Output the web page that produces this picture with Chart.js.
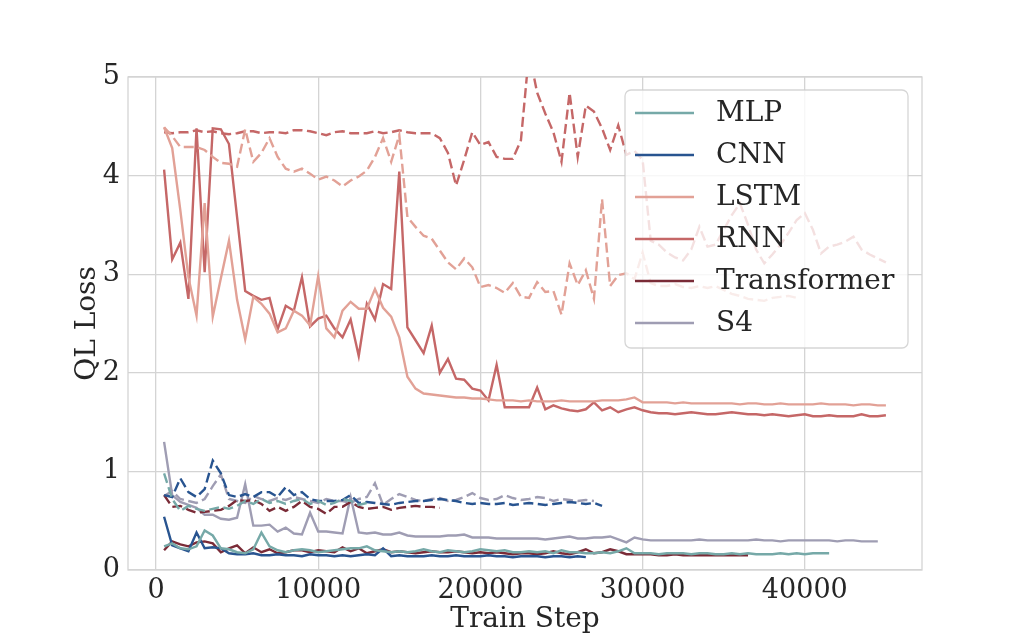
<!DOCTYPE html>
<html>
<head>
<meta charset="utf-8">
<title>QL Loss vs Train Step</title>
<script src="https://cdn.jsdelivr.net/npm/chart.js@4.4.1/dist/chart.umd.min.js"></script>
<style>
  html, body { margin: 0; padding: 0; background: #fff; }
  canvas { display: block; }
</style>
</head>
<body>
<canvas id="chart" width="1024" height="640"></canvas>
<script>
// losses are logged every 500 train steps, first log at step 500
const stepStart = 500;
const stepEvery = 500;

const xTicks = [0, 10000, 20000, 30000, 40000];
const yTicks = [0, 1, 2, 3, 4, 5];
const xLimits = [-1725, 47225];
const yLimits = [0, 5];

const models = ["MLP", "CNN", "LSTM", "RNN", "Transformer", "S4"];

// solid lines = train loss, dashed = validation loss
const mlpTrain = [0.24, 0.27, 0.22, 0.21, 0.24, 0.40, 0.35, 0.22, 0.21, 0.18, 0.17, 0.21, 0.38, 0.24, 0.20, 0.18, 0.20, 0.21, 0.20, 0.18,
  0.19, 0.20, 0.21, 0.22, 0.22, 0.24, 0.20, 0.19, 0.18, 0.19, 0.18, 0.19, 0.21, 0.19, 0.18, 0.20, 0.19, 0.18, 0.19, 0.21,
  0.20, 0.19, 0.20, 0.18, 0.18, 0.19, 0.18, 0.19, 0.17, 0.20, 0.18, 0.18, 0.17, 0.17, 0.18, 0.17, 0.19, 0.22, 0.17, 0.17,
  0.17, 0.16, 0.17, 0.17, 0.17, 0.16, 0.17, 0.17, 0.16, 0.16, 0.17, 0.16, 0.17, 0.16, 0.16, 0.16, 0.17, 0.16, 0.17, 0.16,
  0.17, 0.17, 0.17];
const mlpVal = [0.98, 0.72, 0.60, 0.65, 0.62, 0.60, 0.62, 0.64, 0.62, 0.65, 0.70, 0.67, 0.72, 0.68, 0.70, 0.67, 0.70, 0.72, 0.67, 0.70,
  0.66, 0.68, 0.72, 0.70, 0.66, 0.68];

const cnnTrain = [0.54, 0.25, 0.22, 0.19, 0.38, 0.22, 0.23, 0.22, 0.17, 0.16, 0.16, 0.17,
  0.15, 0.15, 0.16, 0.15, 0.15, 0.14, 0.16, 0.15, 0.15, 0.14, 0.15, 0.14, 0.15, 0.16, 0.15, 0.22, 0.14, 0.15, 0.14, 0.14,
  0.14, 0.15, 0.14, 0.14, 0.15, 0.14, 0.14, 0.14, 0.15, 0.14, 0.14, 0.13, 0.14, 0.14, 0.14, 0.13, 0.14, 0.14, 0.13, 0.14, 0.13];
const cnnVal = [0.76, 0.74, 0.93, 0.79, 0.74, 0.82, 1.11, 0.98, 0.76, 0.74, 0.77, 0.74, 0.79, 0.79, 0.74, 0.84, 0.76, 0.79, 0.72, 0.70,
  0.70, 0.70, 0.71, 0.76, 0.68, 0.69, 0.68, 0.67, 0.66, 0.68, 0.69, 0.70, 0.70, 0.71, 0.72, 0.71, 0.70, 0.68, 0.67, 0.68,
  0.67, 0.67, 0.68, 0.66, 0.67, 0.68, 0.67, 0.66, 0.67, 0.68, 0.69, 0.68, 0.67, 0.68, 0.65];

const lstmTrain = [4.49, 4.28, 3.65, 2.97, 2.58, 3.72, 2.57, 2.96, 3.34, 2.74, 2.34, 2.77, 2.70, 2.60, 2.41, 2.45, 2.63, 2.58, 2.48, 2.98,
  2.45, 2.36, 2.63, 2.72, 2.65, 2.65, 2.85, 2.66, 2.57, 2.36, 1.96, 1.84,
  1.79, 1.78, 1.77, 1.76, 1.75, 1.75, 1.74, 1.74, 1.73,
  1.72, 1.72, 1.72, 1.71, 1.72, 1.71, 1.71, 1.71, 1.72, 1.71, 1.71, 1.71, 1.71, 1.72, 1.72, 1.72, 1.73, 1.75, 1.70,
  1.70, 1.70, 1.70, 1.69, 1.70, 1.69, 1.69, 1.69, 1.69, 1.69, 1.69, 1.68, 1.69, 1.69, 1.68, 1.68, 1.69, 1.68, 1.68, 1.68,
  1.68, 1.69, 1.68, 1.68, 1.68, 1.67, 1.68, 1.68, 1.67, 1.67];
const lstmVal = [4.49, 4.40, 4.29, 4.29, 4.29, 4.26, 4.19, 4.13, 4.12, 4.09, 4.47, 4.14, 4.23, 4.38, 4.19, 4.07, 4.04, 4.07, 4.02, 3.96,
  3.99, 3.95, 3.89, 3.95, 3.99, 4.05, 4.19, 4.38, 4.14, 4.41,
  3.58, 3.48, 3.39, 3.36, 3.24, 3.12, 3.05, 3.16, 3.07, 2.87, 2.89, 2.86, 2.81, 2.91, 2.77, 2.76, 2.92, 2.82, 2.83, 2.59,
  3.11, 2.89, 3.04, 2.75, 3.76, 2.88, 2.99, 3.01,
  2.95, 3.22, 2.91, 2.88, 2.88, 2.90, 2.87, 2.86, 2.88, 2.86, 2.88, 2.84, 2.80, 2.78, 2.75, 2.74, 2.73, 2.76, 2.77, 2.78, 2.76];

const rnnTrain = [4.06, 3.15, 3.32, 2.75, 4.48, 3.02, 4.48, 4.47, 4.32, 3.58, 2.83, 2.78, 2.74, 2.76, 2.44, 2.68, 2.63, 2.97, 2.47, 2.55,
  2.58, 2.45, 2.36, 2.54, 2.17, 2.70, 2.54, 2.90, 2.85, 4.04, 2.46, 2.33, 2.20, 2.48, 2.00, 2.14, 1.94, 1.93, 1.84, 1.82,
  1.72, 2.08, 1.65, 1.65, 1.65, 1.65, 1.85, 1.63, 1.67, 1.64, 1.62, 1.61, 1.63, 1.70, 1.62, 1.65, 1.60, 1.63, 1.65, 1.62,
  1.60, 1.59, 1.59, 1.58, 1.59, 1.60, 1.59, 1.58, 1.58, 1.59, 1.60, 1.59, 1.58, 1.58, 1.57, 1.58, 1.57, 1.56, 1.57, 1.58,
  1.56, 1.56, 1.57, 1.56, 1.56, 1.56, 1.58, 1.56, 1.56, 1.57];
const rnnVal = [4.44, 4.43, 4.44, 4.44, 4.46, 4.44, 4.45, 4.43, 4.42, 4.43, 4.45, 4.45, 4.43, 4.44, 4.44, 4.43, 4.46, 4.46, 4.45, 4.43,
  4.41, 4.44, 4.45, 4.43, 4.43, 4.43, 4.45, 4.43, 4.44, 4.46, 4.44, 4.43, 4.43, 4.43,
  4.38, 4.23, 3.90, 4.16, 4.44, 4.31, 4.34, 4.19, 4.17, 4.17, 4.36, 5.25, 4.84, 4.63, 4.44, 4.14, 4.84, 4.19, 4.71, 4.65,
  4.48, 4.26, 4.51, 4.21,
  4.25, 4.16, 3.34, 3.30, 3.22, 3.17, 3.14, 3.25, 3.48, 3.28, 3.30, 3.45, 3.60, 3.72, 3.50, 3.25, 3.11, 3.20, 3.30, 3.42,
  3.55, 3.62, 3.45, 3.21, 3.28, 3.30, 3.33, 3.38, 3.25, 3.20, 3.16, 3.12];

const transformerTrain = [0.20, 0.29, 0.26, 0.24, 0.28, 0.29, 0.27, 0.18, 0.22, 0.25, 0.17, 0.23, 0.18, 0.21, 0.17, 0.18, 0.20, 0.20, 0.18, 0.20,
  0.19, 0.18, 0.23, 0.19, 0.22, 0.17, 0.19, 0.21, 0.18, 0.19, 0.18, 0.17, 0.18, 0.19, 0.18, 0.18, 0.19, 0.18, 0.17, 0.18,
  0.17, 0.18, 0.17, 0.16, 0.17, 0.17, 0.16, 0.17, 0.19, 0.17, 0.16, 0.18, 0.21, 0.17, 0.18, 0.21, 0.19, 0.16, 0.16, 0.16,
  0.16, 0.15, 0.15, 0.16, 0.15, 0.15, 0.15, 0.15, 0.15, 0.15, 0.15, 0.15, 0.15];
const transformerVal = [0.76, 0.64, 0.65, 0.61, 0.58, 0.59, 0.60, 0.61, 0.65, 0.71, 0.70, 0.71, 0.67, 0.60, 0.64, 0.60, 0.64, 0.70, 0.64, 0.62,
  0.57, 0.64, 0.64, 0.69, 0.64, 0.62, 0.63, 0.64, 0.61, 0.63, 0.64, 0.65, 0.64, 0.64, 0.63];

const s4Train = [1.30, 0.76, 0.69, 0.66, 0.63, 0.56, 0.56, 0.52, 0.51, 0.53, 0.87, 0.45, 0.45, 0.46, 0.39, 0.43, 0.37, 0.36, 0.58, 0.39,
  0.39, 0.38, 0.37, 0.74, 0.38, 0.37, 0.38, 0.36, 0.36, 0.38, 0.35, 0.34, 0.34, 0.34, 0.34, 0.35, 0.35, 0.36, 0.33, 0.33,
  0.33, 0.32, 0.32, 0.32, 0.32, 0.32, 0.32, 0.31, 0.32, 0.33, 0.34, 0.32, 0.32, 0.33, 0.33, 0.34,
  0.31, 0.28, 0.33, 0.31, 0.30, 0.30, 0.30, 0.30, 0.30, 0.30, 0.31, 0.30, 0.30, 0.30, 0.30, 0.30, 0.30, 0.31, 0.30, 0.30,
  0.29, 0.30, 0.30, 0.30, 0.30, 0.30, 0.30, 0.29, 0.30, 0.30, 0.29, 0.29, 0.29];
const s4Val = [0.75, 0.80, 0.72, 0.70, 0.68, 0.72, 0.85, 0.97, 0.72, 0.70, 0.68, 0.75, 0.72, 0.70, 0.73, 0.71, 0.74, 0.72, 0.70, 0.68,
  0.72, 0.70, 0.70, 0.68, 0.72, 0.74,
  0.88, 0.66, 0.72, 0.77, 0.74, 0.71, 0.70, 0.72, 0.73, 0.70, 0.71, 0.74, 0.78, 0.73, 0.71, 0.72, 0.76, 0.73, 0.71, 0.72,
  0.74, 0.73, 0.70, 0.72, 0.71, 0.70, 0.71, 0.70];

const trainSeries = [mlpTrain, cnnTrain, lstmTrain, rnnTrain, transformerTrain, s4Train];
const valSeries = [mlpVal, cnnVal, lstmVal, rnnVal, transformerVal, s4Val];
const colors = ["#76a9a8", "#285490", "#e2a196", "#c56767", "#7a2b37", "#9f9db3"];

const font = '"DejaVu Serif", "Liberation Serif", serif';
const textColor = "#262626";
const gridColor = "#d4d4d4";

function toPoints(vals) {
  return vals.map((v, i) => ({ x: stepStart + i * stepEvery, y: v }));
}

const datasets = [];
models.forEach((name, i) => {
  datasets.push({ label: name, data: toPoints(trainSeries[i]), borderColor: colors[i], inLegend: true });
  datasets.push({ label: name + " (val)", data: toPoints(valSeries[i]), borderColor: colors[i], borderDash: [10, 4.5] });
});

// light frame round the plot area, like the matplotlib spines
const frame = {
  id: "frame",
  beforeDatasetsDraw(chart) {
    const { ctx, chartArea: a } = chart;
    ctx.save();
    ctx.strokeStyle = gridColor;
    ctx.lineWidth = 1.3;
    ctx.strokeRect(a.left, a.top, a.right - a.left, a.bottom - a.top);
    ctx.restore();
  }
};

// legend drawn inside the plot, semi transparent box
const legendBox = {
  id: "legendBox",
  afterDatasetsDraw(chart) {
    const { ctx, chartArea: a } = chart;
    const items = chart.data.datasets.filter(d => d.inLegend);
    const w = 283, h = 258;
    const x = a.right - 14 - w, y = a.top + 13;
    ctx.save();
    ctx.beginPath();
    ctx.roundRect(x, y, w, h, 6);
    ctx.fillStyle = "rgba(255,255,255,0.8)";
    ctx.fill();
    ctx.strokeStyle = "rgba(204,204,204,0.8)";
    ctx.lineWidth = 1.3;
    ctx.stroke();
    ctx.font = "28px " + font;
    ctx.textBaseline = "middle";
    ctx.fillStyle = textColor;
    items.forEach((d, i) => {
      const cy = y + 23 + i * 42;
      ctx.strokeStyle = d.borderColor;
      ctx.lineWidth = 2.4;
      ctx.beginPath();
      ctx.moveTo(x + 10, cy);
      ctx.lineTo(x + 69, cy);
      ctx.stroke();
      ctx.fillText(d.label, x + 91, cy + 1);
    });
    ctx.restore();
  }
};

new Chart(document.getElementById("chart"), {
  type: "line",
  data: { datasets },
  options: {
    responsive: false,
    animation: false,
    devicePixelRatio: 1,
    layout: { padding: { top: 77, right: 102, left: 0, bottom: 0 } },
    elements: {
      point: { radius: 0 },
      line: { tension: 0, borderWidth: 2.4, fill: false }
    },
    plugins: {
      legend: { display: false },
      tooltip: { enabled: false }
    },
    scales: {
      x: {
        type: "linear",
        min: xLimits[0],
        max: xLimits[1],
        afterFit: s => { s.height = 70; },
        afterBuildTicks: s => { s.ticks = xTicks.map(v => ({ value: v })); },
        grid: { color: gridColor, lineWidth: 1.3, drawTicks: false },
        border: { display: false },
        ticks: { color: textColor, font: { family: font, size: 27 }, padding: 5, maxRotation: 0, callback: v => String(v) },
        title: { display: true, text: "Train Step", color: textColor, font: { family: font, size: 28 }, padding: { top: 0, bottom: 3 } }
      },
      y: {
        min: yLimits[0],
        max: yLimits[1],
        afterFit: s => { s.width = 128; },
        afterBuildTicks: s => { s.ticks = yTicks.map(v => ({ value: v })); },
        grid: { color: gridColor, lineWidth: 1.3, drawTicks: false },
        border: { display: false },
        ticks: { color: textColor, font: { family: font, size: 27 }, padding: 8, callback: v => String(v) },
        title: { display: true, text: "QL Loss", color: textColor, font: { family: font, size: 28 }, padding: { top: 71, bottom: 0 } }
      }
    }
  },
  plugins: [frame, legendBox]
});
</script>
</body>
</html>
